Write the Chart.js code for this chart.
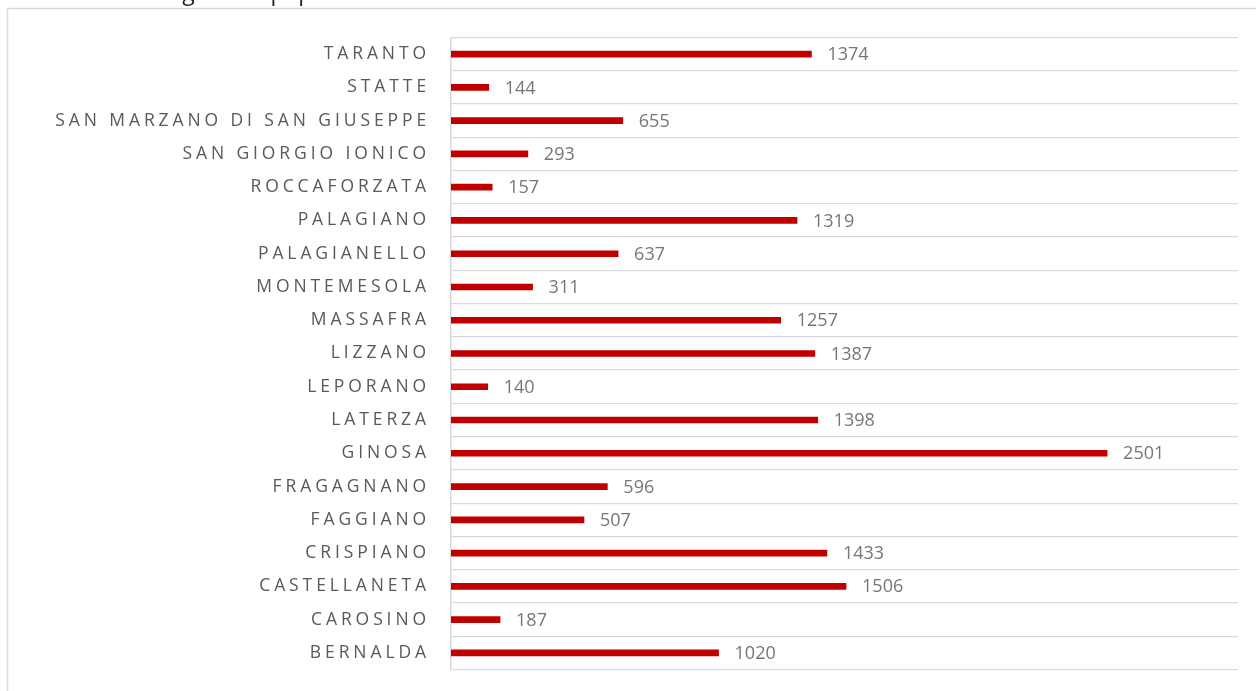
<!DOCTYPE html>
<html>
<head>
<meta charset="utf-8">
<script src="https://cdn.jsdelivr.net/npm/chart.js@4/dist/chart.umd.min.js"></script>
<style>
  html, body { margin: 0; padding: 0; background: #fff; overflow: hidden; }
  #wrap { position: relative; width: 1256px; height: 691px; overflow: hidden; }
  #intro { position: absolute; right: 884px; top: -25px; font: 23px 'Open Sans', sans-serif; color: #222; white-space: nowrap; text-align: right; }
  canvas { position: absolute; left: 0; top: 0; }
</style>
</head>
<body>
<div id="wrap">
  <canvas id="c" width="1256" height="691"></canvas>
  <div id="intro">nelle aree interne e nelle zone agricole spopolate.</div>
</div>
<script>
// Comuni della provincia, dall'alto verso il basso
const comuni = [
  'TARANTO', 'STATTE', 'SAN MARZANO DI SAN GIUSEPPE', 'SAN GIORGIO IONICO',
  'ROCCAFORZATA', 'PALAGIANO', 'PALAGIANELLO', 'MONTEMESOLA', 'MASSAFRA',
  'LIZZANO', 'LEPORANO', 'LATERZA', 'GINOSA', 'FRAGAGNANO', 'FAGGIANO',
  'CRISPIANO', 'CASTELLANETA', 'CAROSINO', 'BERNALDA'
];
const valori = [
  1374, 144, 655, 293, 157, 1319, 637, 311, 1257,
  1387, 140, 1398, 2501, 596, 507, 1433, 1506, 187, 1020
];
const asseMin = 0;
const asseMax = 3000;

// Outer frame of the chart object
const frame = {
  id: 'frame',
  beforeDraw(chart) {
    const ctx = chart.ctx;
    ctx.save();
    ctx.strokeStyle = '#d9d9d9';
    ctx.lineWidth = 1.5;
    ctx.strokeRect(7.5, 8.5, 1400, 800);
    ctx.restore();
    // category labels are drawn with wide tracking
    ctx.letterSpacing = '3.9px';
  },
  beforeDatasetsDraw(chart) {
    chart.ctx.letterSpacing = '0px';
  }
};

// Value written after the end of each bar
const valueLabels = {
  id: 'valueLabels',
  afterDatasetsDraw(chart) {
    const ctx = chart.ctx;
    const meta = chart.getDatasetMeta(0);
    ctx.save();
    ctx.letterSpacing = '0px';
    ctx.font = '18px "Open Sans", sans-serif';
    ctx.fillStyle = '#767676';
    ctx.textAlign = 'left';
    ctx.textBaseline = 'middle';
    meta.data.forEach((bar, i) => {
      ctx.fillText(String(valori[i]), bar.x + 16, bar.y + 1);
    });
    ctx.restore();
  }
};

new Chart(document.getElementById('c'), {
  type: 'bar',
  data: {
    labels: comuni,
    datasets: [{
      data: valori,
      backgroundColor: '#c00000',
      borderWidth: 0,
      barThickness: 6
    }]
  },
  options: {
    indexAxis: 'y',
    responsive: false,
    animation: false,
    layout: { padding: { left: 0, top: 37.5, right: 18, bottom: 21.5 } },
    plugins: { legend: { display: false }, tooltip: { enabled: false } },
    scales: {
      x: { display: false, min: asseMin, max: asseMax },
      y: {
        afterFit(scale) {
          scale.width = 451;
          scale.paddingTop = 0;
          scale.paddingBottom = 0;
        },
        grid: { color: '#d9d9d9', lineWidth: 1.3, drawTicks: false, offset: true },
        border: { display: true, color: '#d9d9d9', width: 1.5 },
        ticks: {
          padding: 21,
          color: '#595959',
          font: { family: 'Open Sans', size: 17.5 }
        }
      }
    }
  },
  plugins: [frame, valueLabels]
});
</script>
</body>
</html>
